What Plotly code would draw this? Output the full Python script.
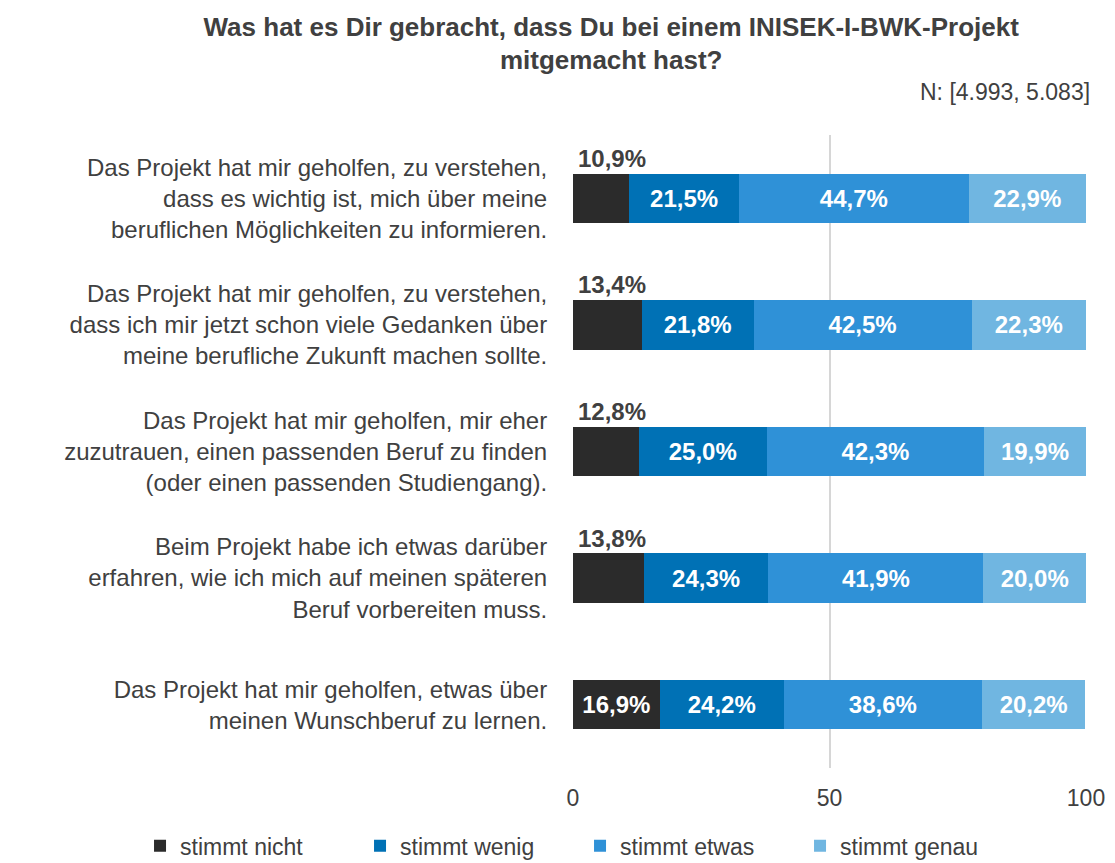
import plotly.graph_objects as go

categories = [
    "Das Projekt hat mir geholfen, zu verstehen,<br>dass es wichtig ist, mich über meine<br>beruflichen Möglichkeiten zu informieren.",
    "Das Projekt hat mir geholfen, zu verstehen,<br>dass ich mir jetzt schon viele Gedanken über<br>meine berufliche Zukunft machen sollte.",
    "Das Projekt hat mir geholfen, mir eher<br>zuzutrauen, einen passenden Beruf zu finden<br>(oder einen passenden Studiengang).",
    "Beim Projekt habe ich etwas darüber<br>erfahren, wie ich mich auf meinen späteren<br>Beruf vorbereiten muss.",
    "Das Projekt hat mir geholfen, etwas über<br>meinen Wunschberuf zu lernen.",
]
series_names = ["stimmt nicht", "stimmt wenig", "stimmt etwas", "stimmt genau"]
stimmt_nicht = [10.9, 13.4, 12.8, 13.8, 16.9]
stimmt_wenig = [21.5, 21.8, 25.0, 24.3, 24.2]
stimmt_etwas = [44.7, 42.5, 42.3, 41.9, 38.6]
stimmt_genau = [22.9, 22.3, 19.9, 20.0, 20.2]
x_ticks = [0, 50, 100]
colors = ["#2b2b2b", "#0071b5", "#2f91d7", "#70b6e1"]

FONT = "Liberation Sans, Arial, sans-serif"
GREY = "#404040"

def fmt(v):
    return f"{v:.1f}%".replace(".", ",")

fig = go.Figure()
all_series = [stimmt_nicht, stimmt_wenig, stimmt_etwas, stimmt_genau]
for i, (name, vals) in enumerate(zip(series_names, all_series)):
    if i == 0:
        texts = [fmt(v) if v >= 15 else "" for v in vals]
    else:
        texts = [fmt(v) for v in vals]
    fig.add_trace(go.Bar(
        y=categories, x=vals, name=name, orientation="h",
        marker=dict(color=colors[i], line=dict(width=0)),
        text=texts, textposition="inside", insidetextanchor="middle",
        textfont=dict(color="white", size=24, family=FONT, weight="bold"),
        constraintext="none", width=0.39, hoverinfo="skip",
    ))

# outside labels for narrow first segments
for cat, v in zip(categories, stimmt_nicht):
    if v < 15:
        fig.add_annotation(
            x=0, y=cat, xref="x", yref="y", text=fmt(v), showarrow=False,
            xanchor="left", yanchor="middle", yshift=40, xshift=3,
            font=dict(size=24, color=GREY, family=FONT, weight="bold"),
        )

fig.add_annotation(
    x=1.0, y=1.068, xref="paper", yref="paper", text="N: [4.993, 5.083]",
    showarrow=False, xanchor="right", yanchor="middle", xshift=6,
    font=dict(size=23, color=GREY, family=FONT),
)

fig.update_layout(
    barmode="stack",
    width=1115, height=863,
    paper_bgcolor="white", plot_bgcolor="white",
    font=dict(family=FONT, color=GREY, size=23),
    title=dict(
        text="<b>Was hat es Dir gebracht, dass Du bei einem INISEK-I-BWK-Projekt<br>mitgemacht hast?</b>",
        x=0.541, xanchor="center", y=0.968, yanchor="top",
        font=dict(size=26, color=GREY, family=FONT),
    ),
    margin=dict(l=565, r=37, t=127, b=103, autoexpand=False),
    xaxis=dict(
        range=[0, 100], tickvals=x_ticks, showgrid=True, gridcolor="#d6d6d6",
        gridwidth=2, zeroline=False, showline=False,
        tickfont=dict(size=23, color=GREY, family=FONT),
        ticks="outside", ticklen=9, tickcolor="rgba(0,0,0,0)",
    ),
    yaxis=dict(
        autorange="reversed", showgrid=False, zeroline=False, showline=False,
        tickfont=dict(size=24, color=GREY, family=FONT), ticks="outside",
        ticklen=20, tickcolor="rgba(0,0,0,0)",
    ),
    legend=dict(
        orientation="h", xref="paper", yref="paper",
        x=-0.844, xanchor="left", y=-0.089, yanchor="top",
        font=dict(size=23, color=GREY, family=FONT), traceorder="normal",
        itemwidth=30, entrywidth=175, entrywidthmode="pixels",
    ),
    showlegend=True,
)

fig.write_html("out.html")
